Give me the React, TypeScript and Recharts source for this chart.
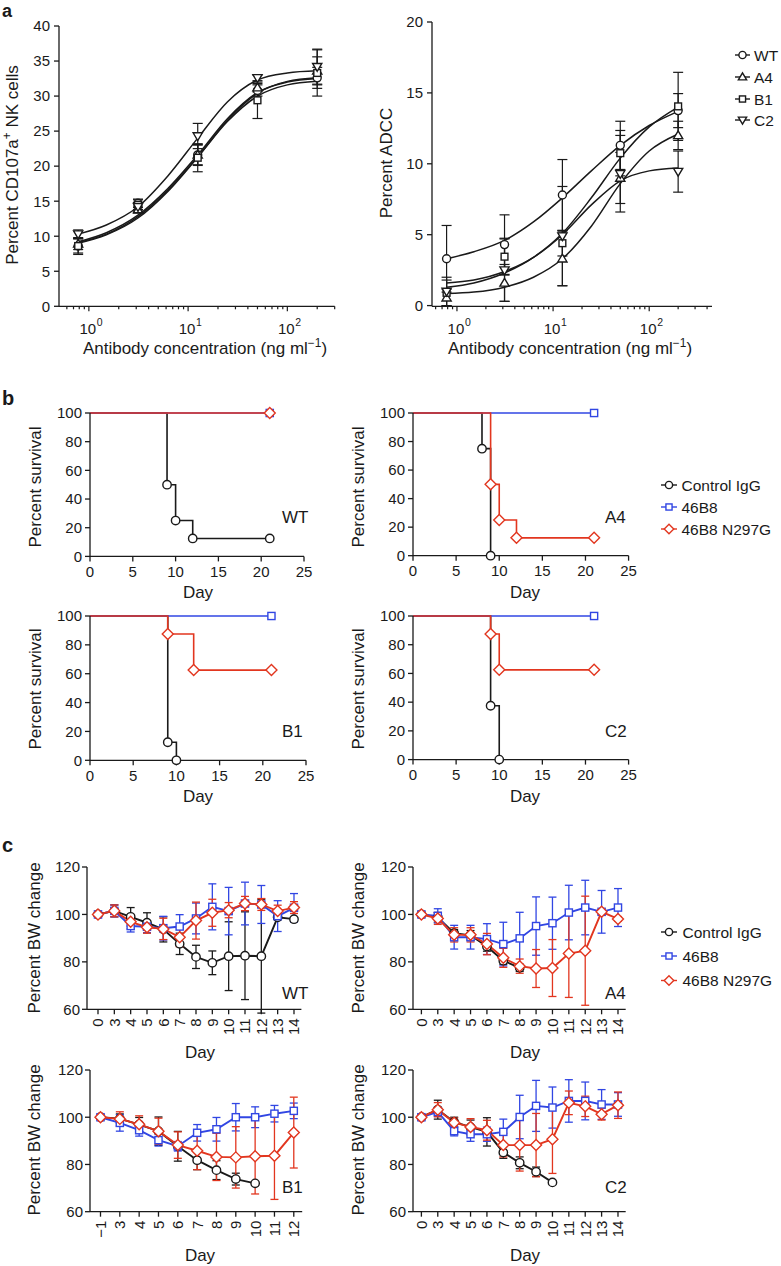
/**
 * Fc variant figure: NK degranulation / ADCC dose curves (a),
 * survival (b) and body-weight change (c).
 */
import React from "react";
import { ComposedChart, LineChart, Line, Scatter, XAxis, YAxis, ErrorBar } from "recharts";

const FONT = '"Liberation Sans", Arial, Helvetica, sans-serif';
const INK = "#1a1a1a";
const RED = "#e2361f";
const BLUE = "#3146e3";

// ---------- a: dose response ----------
const conc = [0.78, 3.125, 12.5, 50, 200];
const fitConc = [0.78, 1.5, 3.125, 6.25, 12.5, 25, 50, 100, 200];

const nkWT = [8.6, 14.7, 21.6, 30.8, 32.6];
const nkA4 = [8.9, 13.8, 21.6, 31.2, 33.6];
const nkB1 = [8.6, 14.5, 21.2, 29.4, 33.3];
const nkC2 = [10.3, 14.2, 24.3, 32.6, 34.2];
const nkErrWT = [1.2, 0.6, 1.5, 0.8, 1.5];
const nkErrA4 = [0.8, 0.5, 1.4, 0.6, 2.0];
const nkErrB1 = [1.0, 0.7, 2.0, 2.6, 3.3];
const nkErrC2 = [0.6, 0.6, 1.8, 0.4, 2.5];
const nkFitWT = [9.2, 10.5, 13.0, 16.8, 21.6, 26.8, 30.5, 32.0, 32.5];
const nkFitA4 = [9.0, 10.2, 12.6, 16.4, 21.3, 26.6, 30.4, 32.1, 32.6];
const nkFitB1 = [9.1, 10.3, 12.8, 16.6, 21.3, 26.4, 30.0, 31.6, 32.1];
const nkFitC2 = [10.3, 11.6, 14.2, 18.6, 24.0, 29.2, 32.3, 33.3, 33.6];

const adccWT = [3.3, 4.3, 7.8, 11.3, 13.75];
const adccA4 = [0.55, 1.6, 3.3, 9.0, 12.0];
const adccB1 = [0.9, 3.45, 4.4, 10.75, 14.05];
const adccC2 = [1.0, 2.5, 4.9, 9.3, 9.45];
const adccErrWT = [2.35, 2.1, 2.5, 1.7, 1.2];
const adccErrA4 = [0.6, 1.3, 1.9, 1.8, 1.0];
const adccErrB1 = [0.9, 1.3, 0.9, 1.6, 2.4];
const adccErrC2 = [1.0, 2.2, 3.5, 2.7, 1.45];
const adccFitWT = [3.3, 3.8, 4.6, 5.9, 7.6, 9.5, 11.3, 12.7, 13.7];
const adccFitA4 = [0.85, 0.95, 1.3, 2.0, 3.3, 5.6, 8.6, 10.9, 12.1];
const adccFitB1 = [1.3, 1.6, 2.3, 3.4, 5.1, 7.6, 10.4, 12.6, 14.0];
const adccFitC2 = [1.6, 1.8, 2.4, 3.4, 5.0, 7.1, 8.8, 9.5, 9.7];

const nkYTicks = [0, 5, 10, 15, 20, 25, 30, 35, 40];
const adccYTicks = [0, 5, 10, 15, 20];
const logTicksNK = [0.6, 0.7, 0.8, 0.9, 1, 2, 3, 4, 5, 6, 7, 8, 9, 10, 20, 30, 40, 50, 60, 70, 80, 90, 100, 200, 300];
const logTicksADCC = [0.6, 0.7, 0.8, 0.9, 1, 2, 3, 4, 5, 6, 7, 8, 9, 10, 20, 30, 40, 50, 60, 70, 80, 90, 100, 200, 300, 400];

// ---------- b: survival (day, percent) ----------
const survDayTicks = [0, 5, 10, 15, 20, 25];
const survPctTicks = [0, 20, 40, 60, 80, 100];
const survWTCtrl = [[0, 100], [9, 50], [10, 25], [12, 12.5], [21, 12.5]];
const survWTMab = [[0, 100], [21, 100]];
const survWTMut = [[0, 100], [21, 100]];
const survA4Ctrl = [[0, 100], [8, 75], [9, 0]];
const survA4Mab = [[0, 100], [21, 100]];
const survA4Mut = [[0, 100], [9, 50], [10, 25], [12, 12.5], [21, 12.5]];
const survB1Ctrl = [[0, 100], [9, 12.5], [10, 0]];
const survB1Mab = [[0, 100], [21, 100]];
const survB1Mut = [[0, 100], [9, 87.5], [12, 62.5], [21, 62.5]];
const survC2Ctrl = [[0, 100], [9, 37.5], [10, 0]];
const survC2Mab = [[0, 100], [21, 100]];
const survC2Mut = [[0, 100], [9, 87.5], [10, 62.5], [21, 62.5]];

// ---------- c: body weight ----------
const bwDays = ["0", "3", "4", "5", "6", "7", "8", "9", "10", "11", "12", "13", "14"];
const bwDaysB1 = ["\u22121", "3", "4", "5", "6", "7", "8", "9", "10", "11", "12"];
const bwTicks = [60, 80, 100, 120];

const bwWTCtrl = [100, 101.5, 99.0, 96.5, 93.7, 87.6, 82.1, 79.6, 82.4, 82.6, 82.4, 98.8, 98.0];
const bwWTCtrlErr = [null, 2.5, 3.9, 4.2, 5.3, 4.5, 4.9, 5, 14.5, 18.5, 24, 1, null];
const bwWTMab = [100, 101.5, 95.1, 94.8, 94.2, 94.9, 98.3, 103.2, 101.4, 104.6, 104.2, 99.3, 102.8];
const bwWTMabErr = [null, 2.5, 2.5, 2.5, 5, 5, 6.5, 9.7, 10, 9, 8, 6.5, 6];
const bwWTMut = [100, 101.5, 96.9, 94.6, 93.9, 90.4, 97.4, 100.7, 101.8, 104.6, 104.2, 101.4, 102.9];
const bwWTMutErr = [null, 2.5, 3, 2.5, 4.5, 4, 7.8, 5.7, 3.2, 3, 2.5, 2.5, 2.5];

const bwA4Ctrl = [100, 98.8, 92.1, 91.2, 86.5, 80.5, 77.5];
const bwA4CtrlErr = [null, 2, 1.5, 2, 2, 1.5, 1.5];
const bwA4Mab = [100, 99.4, 90.4, 90.4, 89.6, 87.5, 89.9, 95.1, 96.3, 100.8, 102.9, 101.1, 102.9];
const bwA4MabErr = [null, 3, 5, 5, 6.5, 9.2, 11, 12.3, 11, 11.5, 11.5, 9, 8];
const bwA4Mut = [100, 98.3, 91.4, 91.4, 87.5, 81.7, 78.2, 77.2, 77.4, 83.5, 84.7, 101.1, 98.1];
const bwA4MutErr = [null, 2.5, 3, 3, 4.5, 4, 3, 8, 12, 18.5, 23, 1, 1];

const bwB1Ctrl = [100, 99.4, 96.9, 94.1, 87.7, 81.8, 77.6, 73.8, 72.0];
const bwB1CtrlErr = [null, 2, 3, 6, 6.3, 4, 4, 2.5, null];
const bwB1Mab = [100, 97.6, 94.5, 90.3, 87.7, 93.4, 94.9, 100, 100, 101.5, 102.7];
const bwB1MabErr = [null, 3.5, 2.5, 2.5, 2, 3.5, 5, 5.8, 4.4, 3.5, 3.3];
const bwB1Mut = [100, 99.3, 97.0, 94.1, 88.2, 85.8, 83.2, 83.0, 83.5, 83.7, 93.5];
const bwB1MutErr = [null, 3, 3.6, 5.5, 5.6, 8, 10, 13, 16, 18.5, 15];

const bwC2Ctrl = [100, 103.2, 98.0, 95.8, 93.8, 85.1, 80.7, 76.9, 72.4];
const bwC2CtrlErr = [null, 4, 2, 3, 6, 2.5, 2.5, 2, null];
const bwC2Mab = [100, 102.3, 94.1, 92.8, 92.8, 93.8, 100.1, 104.8, 104.1, 106.9, 106.9, 105.4, 105.4];
const bwC2MabErr = [null, 2, 2, 3, 3, 5.4, 9.2, 10.8, 8.7, 9, 8, 6.3, 5];
const bwC2Mut = [100, 103.2, 97.7, 95.9, 94.5, 88.2, 88.2, 88.2, 90.7, 106.1, 104.6, 101.3, 105.1];
const bwC2MutErr = [null, 3, 2, 3.5, 4.2, 5, 11, 13.4, 14.5, 5, 4.3, 2.5, 5.6];

// ---------- helpers ----------
type Shape = "circle" | "square" | "diamond" | "up" | "down";

function Marker({ cx, cy, shape, color, r = 4.2 }: { cx: number; cy: number; shape: Shape; color: string; r?: number }) {
  if (cx == null || cy == null || isNaN(cx) || isNaN(cy)) return null;
  const common = { fill: "#fff", stroke: color, strokeWidth: 1.4 };
  if (shape === "circle") return <circle cx={cx} cy={cy} r={r} {...common} />;
  if (shape === "square") {
    const h = r * 0.85;
    return <rect x={cx - h} y={cy - h} width={2 * h} height={2 * h} {...common} />;
  }
  if (shape === "diamond") {
    const d = r * 1.25;
    return <polygon points={`${cx},${cy - d} ${cx + d},${cy} ${cx},${cy + d} ${cx - d},${cy}`} {...common} />;
  }
  const t = r * 1.15;
  const s = shape === "up" ? 1 : -1;
  return (
    <polygon
      points={`${cx},${cy - s * t} ${cx + t},${cy + s * t * 0.7} ${cx - t},${cy + s * t * 0.7}`}
      {...common}
    />
  );
}

const dotOf = (shape: Shape, color: string, skipFirst = false, r = 4.2) => (p: any) => (
  <g key={`dot-${p.index}`}>
    {skipFirst && p.index === 0 ? null : <Marker cx={p.cx} cy={p.cy} shape={shape} color={color} r={r} />}
  </g>
);

function frame(x0: number, x1: number, y0: number, y1: number, yw: number, xh: number) {
  const mt = 12;
  const mr = 12;
  return {
    style: { position: "absolute" as const, left: x0 - yw, top: y0 - mt },
    width: yw + (x1 - x0) + mr,
    height: mt + (y1 - y0) + xh,
    margin: { top: mt, right: mr, left: 0, bottom: 0 },
    yw,
    xh,
  };
}

const axisLine = { stroke: INK, strokeWidth: 1.3 };
const tickFont = { fontSize: 15, fill: INK, fontFamily: FONT };

function LogTick(props: any) {
  const { x, y, payload } = props;
  const p = Math.log10(payload.value);
  const major = Math.abs(p - Math.round(p)) < 1e-6;
  return (
    <g>
      <line x1={x} x2={x} y1={y} y2={y + (major ? 5 : 3)} stroke={INK} strokeWidth={1.2} />
      {major && (
        <text x={x - 1} y={y + 28} textAnchor="middle" fontSize={15} fill={INK} fontFamily={FONT}>
          10
        </text>
      )}
      {major && (
        <text x={x + 8} y={y + 20} fontSize={10.5} fill={INK} fontFamily={FONT}>
          {Math.round(p)}
        </text>
      )}
    </g>
  );
}

function DayTick(props: any) {
  const { x, y, payload } = props;
  return (
    <text
      transform={`translate(${x},${y}) rotate(-90)`}
      textAnchor="end"
      dy="0.36em"
      fontSize={15}
      fill={INK}
      fontFamily={FONT}
    >
      {payload.value}
    </text>
  );
}

const zipPts = (xs: number[], ys: number[], es?: number[]) =>
  xs.map((x, i) => ({ x, y: ys[i], e: es ? es[i] : undefined }));

// ---------- panel a ----------
type DoseSeries = { name: string; shape: Shape; vals: number[]; errs: number[]; fit: number[] };

function DosePanel(props: {
  box: [number, number, number, number];
  xMax: number;
  xMin: number;
  xTicks: number[];
  yMax: number;
  yTicks: number[];
  series: DoseSeries[];
}) {
  const [x0, x1, y0, y1] = props.box;
  const f = frame(x0, x1, y0, y1, 50, 40);
  return (
    <div style={f.style}>
      <ComposedChart width={f.width} height={f.height} margin={f.margin}>
        <XAxis
          type="number"
          dataKey="x"
          scale="log"
          domain={[props.xMin, props.xMax]}
          allowDataOverflow
          ticks={props.xTicks}
          interval={0}
          tickLine={false}
          tickSize={0}
          tickMargin={0}
          tick={(p: any) => <LogTick {...p} />}
          axisLine={axisLine}
          height={f.xh}
        />
        <YAxis
          type="number"
          dataKey="y"
          width={f.yw}
          domain={[0, props.yMax]}
          ticks={props.yTicks}
          interval={0}
          tickSize={5}
          tickMargin={4}
          tick={tickFont}
          axisLine={axisLine}
          tickLine={axisLine}
        />
        {props.series.map((s) => (
          <Line
            key={`fit-${s.name}`}
            data={zipPts(fitConc, s.fit)}
            dataKey="y"
            type="monotone"
            stroke={INK}
            strokeWidth={1.5}
            dot={false}
            activeDot={false}
            isAnimationActive={false}
          />
        ))}
        {props.series.map((s) => (
          <Scatter
            key={`pts-${s.name}`}
            data={zipPts(conc, s.vals, s.errs)}
            dataKey="y"
            isAnimationActive={false}
            shape={(p: any) => <Marker cx={p.cx} cy={p.cy} shape={s.shape} color={INK} r={4} />}
          >
            <ErrorBar dataKey="e" direction="y" width={5} stroke={INK} strokeWidth={1.2} />
          </Scatter>
        ))}
      </ComposedChart>
    </div>
  );
}

// ---------- panel b ----------
const toKM = (pairs: number[][]) => pairs.map(([day, pct]) => ({ day, pct }));

function SurvivalPanel(props: {
  box: [number, number, number, number];
  ctrl: number[][];
  mab: number[][];
  mut: number[][];
}) {
  const [x0, x1, y0, y1] = props.box;
  const f = frame(x0, x1, y0, y1, 50, 40);
  const line = (data: number[][], color: string, shape: Shape, key: string) => (
    <Line
      key={key}
      data={toKM(data)}
      dataKey="pct"
      type="stepAfter"
      stroke={color}
      strokeWidth={1.6}
      dot={dotOf(shape, color, true, shape === "diamond" ? 4.4 : 4.2)}
      activeDot={false}
      isAnimationActive={false}
    />
  );
  return (
    <div style={f.style}>
      <LineChart width={f.width} height={f.height} margin={f.margin}>
        <XAxis
          type="number"
          dataKey="day"
          domain={[0, 25]}
          ticks={survDayTicks}
          interval={0}
          tickSize={5}
          tickMargin={5}
          tick={tickFont}
          axisLine={axisLine}
          tickLine={axisLine}
          height={f.xh}
        />
        <YAxis
          type="number"
          width={f.yw}
          domain={[0, 100]}
          ticks={survPctTicks}
          interval={0}
          tickSize={5}
          tickMargin={3}
          tick={tickFont}
          axisLine={axisLine}
          tickLine={axisLine}
        />
        {line(props.ctrl, INK, "circle", "ctrl")}
        {line(props.mab, BLUE, "square", "mab")}
        {line(props.mut, RED, "diamond", "mut")}
      </LineChart>
    </div>
  );
}

// ---------- panel c ----------
function WeightPanel(props: {
  box: [number, number, number, number];
  pad: [number, number];
  days: string[];
  ctrl: number[];
  ctrlErr: (number | null)[];
  mab: number[];
  mabErr: (number | null)[];
  mut: number[];
  mutErr: (number | null)[];
}) {
  const [x0, x1, y0, y1] = props.box;
  const f = frame(x0, x1, y0, y1, 50, 40);
  const rows = props.days.map((d, i) => ({
    d,
    ctrl: props.ctrl[i] ?? null,
    ctrlE: props.ctrlErr[i] ?? null,
    mab: props.mab[i] ?? null,
    mabE: props.mabErr[i] ?? null,
    mut: props.mut[i] ?? null,
    mutE: props.mutErr[i] ?? null,
  }));
  const series: [string, string, Shape][] = [
    ["ctrl", INK, "circle"],
    ["mab", BLUE, "square"],
    ["mut", RED, "diamond"],
  ];
  return (
    <div style={f.style}>
      <LineChart width={f.width} height={f.height} margin={f.margin} data={rows}>
        <XAxis
          dataKey="d"
          type="category"
          padding={{ left: props.pad[0], right: props.pad[1] }}
          interval={0}
          tickSize={5}
          tickMargin={4}
          tick={(p: any) => <DayTick {...p} />}
          axisLine={axisLine}
          tickLine={axisLine}
          height={f.xh}
        />
        <YAxis
          type="number"
          width={f.yw}
          domain={[60, 120]}
          ticks={bwTicks}
          allowDataOverflow
          interval={0}
          tickSize={5}
          tickMargin={2}
          tick={tickFont}
          axisLine={axisLine}
          tickLine={axisLine}
        />
        {series.map(([key, color, shape]) => (
          <Line
            key={key}
            dataKey={key}
            type="linear"
            stroke={color}
            strokeWidth={1.9}
            dot={dotOf(shape, color, false, shape === "diamond" ? 4.4 : 4.2)}
            activeDot={false}
            isAnimationActive={false}
          >
            <ErrorBar dataKey={`${key}E`} direction="y" width={4} stroke={color} strokeWidth={1.3} />
          </Line>
        ))}
      </LineChart>
    </div>
  );
}

// ---------- text overlay ----------
function YTitle({ x, y, children }: { x: number; y: number; children: React.ReactNode }) {
  return (
    <text transform={`translate(${x},${y}) rotate(-90)`} textAnchor="middle" fontSize={17}>
      {children}
    </text>
  );
}

function XTitle({ x, y, children }: { x: number; y: number; children: React.ReactNode }) {
  return (
    <text x={x} y={y} textAnchor="middle" fontSize={17}>
      {children}
    </text>
  );
}

function LegendRows({
  x,
  len,
  mx,
  tx,
  rows,
}: {
  x: number;
  len: number;
  mx: number;
  tx: number;
  rows: { y: number; label: string; shape: Shape; color: string }[];
}) {
  return (
    <g>
      {rows.map((r) => (
        <g key={r.label}>
          <line x1={x} x2={x + len} y1={r.y} y2={r.y} stroke={r.color} strokeWidth={1.4} />
          <Marker cx={mx} cy={r.y} shape={r.shape} color={r.color} r={r.shape === "diamond" ? 3.8 : 3.6} />
          <text x={tx} y={r.y + 5.5} fontSize={15.5}>
            {r.label}
          </text>
        </g>
      ))}
    </g>
  );
}

function Overlay() {
  const sup = (s: string) => (
    <tspan baselineShift="super" fontSize="70%">
      {s}
    </tspan>
  );
  const groups = [
    { label: "Control IgG", shape: "circle" as Shape, color: INK },
    { label: "46B8", shape: "square" as Shape, color: BLUE },
    { label: "46B8 N297G", shape: "diamond" as Shape, color: RED },
  ];
  return (
    <svg
      width={781}
      height={1266}
      style={{ position: "absolute", left: 0, top: 0, pointerEvents: "none" }}
      fontFamily={FONT}
      fill={INK}
    >
      <text x={2} y={17} fontSize={18} fontWeight="bold">a</text>
      <text x={2} y={405} fontSize={20} fontWeight="bold">b</text>
      <text x={2} y={852} fontSize={20} fontWeight="bold">c</text>

      <YTitle x={17.5} y={165}>Percent CD107a{sup("+")} NK cells</YTitle>
      <XTitle x={205} y={353.5}>Antibody concentration (ng ml{sup("\u22121")})</XTitle>
      <YTitle x={391.5} y={163}>Percent ADCC</YTitle>
      <XTitle x={570} y={353.5}>Antibody concentration (ng ml{sup("\u22121")})</XTitle>
      <LegendRows
        x={735}
        len={15}
        mx={742.5}
        tx={754}
        rows={[
          { y: 55, label: "WT", shape: "circle", color: INK },
          { y: 77, label: "A4", shape: "up", color: INK },
          { y: 99, label: "B1", shape: "square", color: INK },
          { y: 120, label: "C2", shape: "down", color: INK },
        ]}
      />

      <YTitle x={41} y={487}>Percent survival</YTitle>
      <YTitle x={364} y={487}>Percent survival</YTitle>
      <YTitle x={41} y={689}>Percent survival</YTitle>
      <YTitle x={364} y={689}>Percent survival</YTitle>
      <XTitle x={198} y={598}>Day</XTitle>
      <XTitle x={525} y={598}>Day</XTitle>
      <XTitle x={198} y={801.5}>Day</XTitle>
      <XTitle x={525} y={801.5}>Day</XTitle>
      <text x={282} y={523} fontSize={17}>WT</text>
      <text x={605} y={523} fontSize={17}>A4</text>
      <text x={282} y={737} fontSize={17}>B1</text>
      <text x={605} y={737} fontSize={17}>C2</text>
      <LegendRows
        x={661}
        len={16}
        mx={669}
        tx={681.5}
        rows={groups.map((g, i) => ({ ...g, y: [485, 507, 529][i] }))}
      />

      <YTitle x={40} y={938}>Percent BW change</YTitle>
      <YTitle x={364} y={938}>Percent BW change</YTitle>
      <YTitle x={40} y={1140}>Percent BW change</YTitle>
      <YTitle x={364} y={1140}>Percent BW change</YTitle>
      <XTitle x={200} y={1058}>Day</XTitle>
      <XTitle x={525} y={1058}>Day</XTitle>
      <XTitle x={200} y={1261}>Day</XTitle>
      <XTitle x={525} y={1261}>Day</XTitle>
      <text x={282} y={999} fontSize={17}>WT</text>
      <text x={605} y={999} fontSize={17}>A4</text>
      <text x={282} y={1193} fontSize={17}>B1</text>
      <text x={605} y={1193} fontSize={17}>C2</text>
      <LegendRows
        x={661}
        len={16}
        mx={669}
        tx={682.5}
        rows={groups.map((g, i) => ({ ...g, y: [932, 956, 980.5][i] }))}
      />
    </svg>
  );
}

export default function App() {
  return (
    <div
      style={{
        position: "absolute",
        left: 0,
        top: 0,
        width: 781,
        height: 1266,
        background: "#fff",
        overflow: "hidden",
        fontFamily: FONT,
      }}
    >
      <DosePanel
        box={[59.3, 335, 25.7, 306]}
        xMin={0.5}
        xMax={300}
        xTicks={logTicksNK}
        yMax={40}
        yTicks={nkYTicks}
        series={[
          { name: "WT", shape: "circle", vals: nkWT, errs: nkErrWT, fit: nkFitWT },
          { name: "A4", shape: "up", vals: nkA4, errs: nkErrA4, fit: nkFitA4 },
          { name: "B1", shape: "square", vals: nkB1, errs: nkErrB1, fit: nkFitB1 },
          { name: "C2", shape: "down", vals: nkC2, errs: nkErrC2, fit: nkFitC2 },
        ]}
      />
      <DosePanel
        box={[431.7, 711.7, 21.7, 306]}
        xMin={0.55}
        xMax={450}
        xTicks={logTicksADCC}
        yMax={20}
        yTicks={adccYTicks}
        series={[
          { name: "WT", shape: "circle", vals: adccWT, errs: adccErrWT, fit: adccFitWT },
          { name: "A4", shape: "up", vals: adccA4, errs: adccErrA4, fit: adccFitA4 },
          { name: "B1", shape: "square", vals: adccB1, errs: adccErrB1, fit: adccFitB1 },
          { name: "C2", shape: "down", vals: adccC2, errs: adccErrC2, fit: adccFitC2 },
        ]}
      />

      <SurvivalPanel box={[90, 304, 413.3, 556.7]} ctrl={survWTCtrl} mab={survWTMab} mut={survWTMut} />
      <SurvivalPanel box={[412.7, 628.3, 413.3, 556]} ctrl={survA4Ctrl} mab={survA4Mab} mut={survA4Mut} />
      <SurvivalPanel box={[89.5, 305.5, 615.7, 760]} ctrl={survB1Ctrl} mab={survB1Mab} mut={survB1Mut} />
      <SurvivalPanel box={[412.7, 628.3, 615.7, 759.3]} ctrl={survC2Ctrl} mab={survC2Mab} mut={survC2Mut} />

      <WeightPanel
        box={[87.3, 301.7, 866.7, 1009]}
        pad={[11, 7.4]}
        days={bwDays}
        ctrl={bwWTCtrl}
        ctrlErr={bwWTCtrlErr}
        mab={bwWTMab}
        mabErr={bwWTMabErr}
        mut={bwWTMut}
        mutErr={bwWTMutErr}
      />
      <WeightPanel
        box={[413.3, 626, 866.7, 1009]}
        pad={[8.4, 7.7]}
        days={bwDays}
        ctrl={bwA4Ctrl}
        ctrlErr={bwA4CtrlErr}
        mab={bwA4Mab}
        mabErr={bwA4MabErr}
        mut={bwA4Mut}
        mutErr={bwA4MutErr}
      />
      <WeightPanel
        box={[89.5, 301.7, 1070, 1211.7]}
        pad={[10.5, 8.4]}
        days={bwDaysB1}
        ctrl={bwB1Ctrl}
        ctrlErr={bwB1CtrlErr}
        mab={bwB1Mab}
        mabErr={bwB1MabErr}
        mut={bwB1Mut}
        mutErr={bwB1MutErr}
      />
      <WeightPanel
        box={[413.3, 626, 1070, 1211.7]}
        pad={[8.4, 7.7]}
        days={bwDays}
        ctrl={bwC2Ctrl}
        ctrlErr={bwC2CtrlErr}
        mab={bwC2Mab}
        mabErr={bwC2MabErr}
        mut={bwC2Mut}
        mutErr={bwC2MutErr}
      />

      <Overlay />
    </div>
  );
}
